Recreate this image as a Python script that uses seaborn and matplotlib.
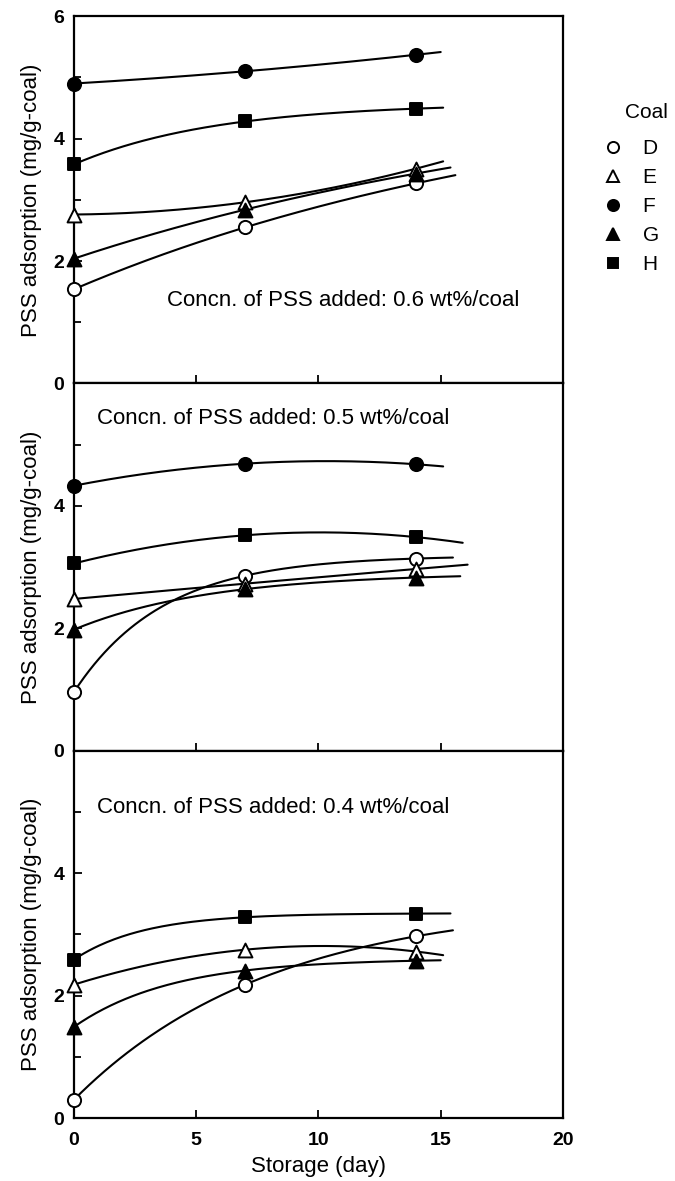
import numpy as np
import pandas as pd
import matplotlib
matplotlib.use("Agg")
import matplotlib.pyplot as plt
from matplotlib.lines import Line2D
import seaborn as sns

# Storage time of the coal samples (day)
days = [0, 7, 14]
coals = ["D", "E", "F", "G", "H"]

# PSS adsorption (mg/g-coal) -- 0.6 wt%/coal PSS added
d_06 = [1.54, 2.55, 3.27]
e_06 = [2.76, 2.96, 3.51]
f_06 = [4.90, 5.10, 5.37]
g_06 = [2.04, 2.84, 3.43]
h_06 = [3.58, 4.28, 4.49]

# PSS adsorption (mg/g-coal) -- 0.5 wt%/coal PSS added
d_05 = [0.96, 2.86, 3.14]
e_05 = [2.48, 2.73, 2.97]
f_05 = [4.33, 4.69, 4.68]
g_05 = [1.98, 2.64, 2.83]
h_05 = [3.06, 3.52, 3.49]

# PSS adsorption (mg/g-coal) -- 0.4 wt%/coal PSS added (no coal F)
d_04 = [0.30, 2.18, 2.97]
e_04 = [2.18, 2.75, 2.72]
g_04 = [1.49, 2.41, 2.57]
h_04 = [2.59, 3.28, 3.34]

# Day at which each smoothed trend curve stops
end_06 = {"D": 15.6, "E": 15.1, "F": 15.0, "G": 15.4, "H": 15.1}
end_05 = {"D": 15.5, "E": 16.1, "F": 15.1, "G": 15.8, "H": 15.9}
end_04 = {"D": 15.5, "E": 15.1, "G": 15.0, "H": 15.4}

panel_titles = ["Concn. of PSS added: 0.6 wt%/coal",
                "Concn. of PSS added: 0.5 wt%/coal",
                "Concn. of PSS added: 0.4 wt%/coal"]

panels = [
    ({"D": d_06, "E": e_06, "F": f_06, "G": g_06, "H": h_06}, end_06),
    ({"D": d_05, "E": e_05, "F": f_05, "G": g_05, "H": h_05}, end_05),
    ({"D": d_04, "E": e_04, "G": g_04, "H": h_04}, end_04),
]

marker_style = {
    "D": dict(marker="o", face="white", s=90),
    "E": dict(marker="^", face="white", s=100),
    "F": dict(marker="o", face="black", s=90),
    "G": dict(marker="^", face="black", s=100),
    "H": dict(marker="s", face="black", s=75),
}


def smooth_curve(x, y, x_end, n=150):
    """Smooth trend through three equally spaced points, extended to x_end."""
    x = np.asarray(x, float)
    y = np.asarray(y, float)
    xs = np.linspace(x[0], x_end, n)
    r = (y[2] - y[1]) / (y[1] - y[0]) if y[1] != y[0] else -1.0
    if 0 < r < 1:
        # saturating growth curve
        step = x[1] - x[0]
        k = -np.log(r) / step
        amp = (y[1] - y[0]) / (1 - r)
        ys = y[0] + amp * (1 - np.exp(-k * (xs - x[0])))
    else:
        ys = np.polyval(np.polyfit(x, y, 2), xs)
    return xs, ys


sns.set_theme(style="ticks")
plt.rcParams["font.family"] = ["Liberation Sans", "DejaVu Sans"]
plt.rcParams.update({
    "axes.linewidth": 1.6,
    "text.color": "black",
    "axes.labelcolor": "black",
    "xtick.color": "black",
    "ytick.color": "black",
    "axes.edgecolor": "black",
})

fig = plt.figure(figsize=(6.75, 11.81), dpi=100)
left, width = 0.1096, 0.7244
bottom, height = 0.0533, 0.3110
axes = [fig.add_axes([left, bottom + (2 - i) * height, width, height])
        for i in range(3)]

text_pos = [(3.8, 1.36), (0.94, 5.42), (0.94, 5.08)]

for i, (ax, (series, ends)) in enumerate(zip(axes, panels)):
    pts = pd.DataFrame([(c, d, v) for c, vals in series.items()
                        for d, v in zip(days, vals)],
                       columns=["coal", "day", "ads"])
    curve_rows = []
    for c, vals in series.items():
        xs, ys = smooth_curve(days, vals, ends[c])
        curve_rows += [(c, xv, yv) for xv, yv in zip(xs, ys)]
    curves = pd.DataFrame(curve_rows, columns=["coal", "day", "ads"])

    sns.lineplot(data=curves, x="day", y="ads", units="coal", estimator=None,
                 color="black", linewidth=1.5, ax=ax, legend=False, sort=False)
    for c in series:
        st = marker_style[c]
        sns.scatterplot(data=pts[pts["coal"] == c], x="day", y="ads",
                        marker=st["marker"], s=st["s"], color=st["face"],
                        edgecolor="black", linewidth=1.4, ax=ax,
                        legend=False, zorder=5, clip_on=False)

    ax.set_xlim(0, 20)
    ax.set_ylim(0, 6)
    ylabels = ["0", "2", "4", "6"] if i == 0 else ["0", "2", "4", ""]
    ax.set_yticks([0, 2, 4, 6], labels=ylabels, fontweight="bold", fontsize=14)
    ax.set_yticks([1, 3, 5], minor=True)
    if i == 2:
        ax.set_xticks([0, 5, 10, 15, 20], labels=["0", "5", "10", "15", "20"],
                      fontweight="bold", fontsize=14)
        ax.set_xlabel("Storage (day)", fontsize=16, labelpad=5)
    else:
        ax.set_xticks([0, 5, 10, 15, 20], labels=[""] * 5)
        ax.set_xlabel("")
    ax.tick_params(axis="both", which="both", direction="in", width=1.3,
                   colors="black")
    ax.tick_params(axis="y", which="major", length=6, pad=7)
    ax.tick_params(axis="x", which="major", length=6, pad=10)
    ax.tick_params(axis="y", which="minor", length=5)
    ax.set_ylabel("PSS adsorption (mg/g-coal)", fontsize=16)
    ax.yaxis.set_label_coords(-0.066, 0.5)
    for sp in ax.spines.values():
        sp.set_visible(True)
        sp.set_linewidth(1.6)
        sp.set_color("black")
    tx, ty = text_pos[i]
    ax.text(tx, ty, panel_titles[i], fontsize=16, ha="left", va="center")

# Legend for the coal types
handles = []
for c in coals:
    st = marker_style[c]
    handles.append(Line2D([], [], linestyle="none", marker=st["marker"],
                          markersize=8 if st["marker"] != "s" else 7,
                          markerfacecolor=st["face"], markeredgecolor="black",
                          markeredgewidth=1.4, label=c))
fig.text(625 / 675, 1 - 113 / 1181, "Coal", fontsize=15, ha="left", va="center")
fig.legend(handles=handles, loc="upper left",
           bbox_to_anchor=(603 / 675, 1 - 139 / 1181), frameon=False,
           fontsize=15, handlelength=1.0, handletextpad=0.9, labelspacing=0.48,
           borderpad=0, borderaxespad=0)

fig.savefig("out.png", dpi=100, facecolor="white")
